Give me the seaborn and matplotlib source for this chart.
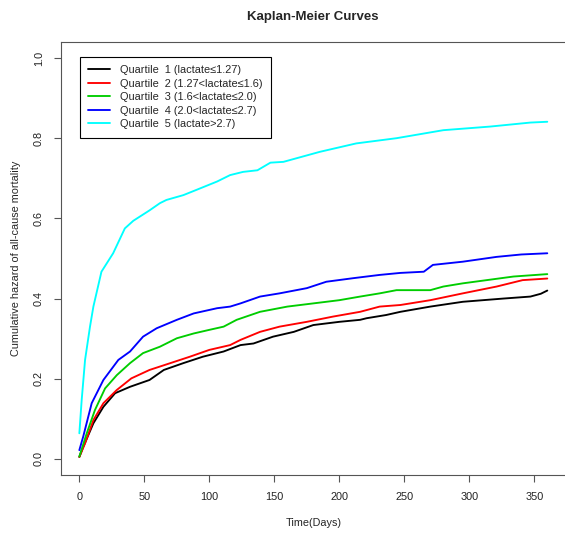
import pandas as pd
import seaborn as sns
import matplotlib.pyplot as plt

# cumulative hazard (days, value) for each lactate quartile
q1_days = [0, 3, 10.8, 18.5, 27.5, 39, 54, 65, 80, 95, 111, 124, 134, 149, 165, 180, 200, 216, 221, 236, 247, 270, 295, 326, 347, 355, 360]
q1_haz = [0.005, 0.03, 0.089, 0.13, 0.164, 0.18, 0.197, 0.222, 0.239, 0.255, 0.268, 0.284, 0.288, 0.305, 0.317, 0.334, 0.342, 0.347, 0.351, 0.359, 0.367, 0.38, 0.392, 0.4, 0.405, 0.412, 0.42]

q2_days = [0, 4.4, 10.8, 18.5, 28.8, 40, 54, 70, 85, 100, 116, 124, 139, 154, 175, 195, 216, 231, 247, 270, 295, 321, 341, 360]
q2_haz = [0.005, 0.039, 0.097, 0.139, 0.172, 0.201, 0.222, 0.239, 0.255, 0.272, 0.284, 0.297, 0.317, 0.33, 0.342, 0.355, 0.367, 0.38, 0.384, 0.396, 0.413, 0.43, 0.446, 0.45]

q3_days = [0, 5.7, 12, 19.8, 28.8, 39, 49, 62, 75, 88, 100, 111, 121, 139, 160, 180, 200, 216, 231, 244, 270, 280, 295, 334, 360]
q3_haz = [0.006, 0.064, 0.122, 0.176, 0.209, 0.239, 0.264, 0.28, 0.301, 0.313, 0.322, 0.33, 0.347, 0.367, 0.38, 0.388, 0.396, 0.405, 0.413, 0.421, 0.421, 0.43, 0.438, 0.455, 0.461]

q4_days = [0, 3, 9.5, 18.5, 30, 39, 49, 59.5, 75, 88, 106, 116, 124, 139, 154, 175, 190, 211, 231, 247, 265, 272, 295, 321, 340, 360]
q4_haz = [0.022, 0.056, 0.139, 0.197, 0.247, 0.268, 0.305, 0.326, 0.347, 0.363, 0.376, 0.38, 0.388, 0.405, 0.413, 0.426, 0.442, 0.451, 0.459, 0.464, 0.467, 0.484, 0.492, 0.504, 0.51, 0.513]

q5_days = [0, 1.8, 4.4, 8.2, 10.8, 17, 26, 35, 41.5, 54, 62, 67, 80, 90, 106, 116, 126, 137, 147, 157, 185, 213, 244, 280, 316, 347, 360]
q5_haz = [0.064, 0.147, 0.247, 0.33, 0.38, 0.467, 0.513, 0.575, 0.594, 0.62, 0.638, 0.646, 0.658, 0.671, 0.692, 0.708, 0.716, 0.72, 0.739, 0.741, 0.766, 0.787, 0.80, 0.82, 0.829, 0.839, 0.841]

labels = [
    "Quartile  1 (lactate≤1.27)",
    "Quartile  2 (1.27<lactate≤1.6)",
    "Quartile  3 (1.6<lactate≤2.0)",
    "Quartile  4 (2.0<lactate≤2.7)",
    "Quartile  5 (lactate>2.7)",
]
colors = ["black", "#FF0000", "#00CD00", "#0000FF", "#00FFFF"]

series = [(q1_days, q1_haz), (q2_days, q2_haz), (q3_days, q3_haz),
          (q4_days, q4_haz), (q5_days, q5_haz)]

sns.set_style("white")
plt.rcParams['font.family'] = ['Liberation Sans', 'DejaVu Sans']

fig = plt.figure(figsize=(5.65, 5.34), dpi=100)
ax = fig.add_axes([0.1073, 0.1105, 0.8945, 0.8109])

for (d, h), lab, col in zip(series, labels, colors):
    df = pd.DataFrame({"days": d, "hazard": h})
    sns.lineplot(data=df, x="days", y="hazard", ax=ax, color=col, label=lab,
                 linewidth=1.35, errorbar=None)

ax.set_xlim(-14.4, 374.4)
ax.set_ylim(-0.04, 1.04)
ax.set_xticks([0, 50, 100, 150, 200, 250, 300, 350])
ax.set_yticks([0.0, 0.2, 0.4, 0.6, 0.8, 1.0])
ax.set_yticklabels(["0.0", "0.2", "0.4", "0.6", "0.8", "1.0"], rotation=90, va="center")
ax.tick_params(axis="both", direction="out", length=5, width=0.8, color="#555555",
               labelsize=7.8, labelcolor="#222222", pad=7, left=True, bottom=True)
for s in ax.spines.values():
    s.set_color("#555555")
    s.set_linewidth(0.8)

ax.set_xlabel("Time(Days)", fontsize=7.8, labelpad=12)
ax.set_ylabel("Cumulative hazard of all-cause mortality", fontsize=7.8, labelpad=9)

fig.text(0.554, 1 - 17 / 534, "Kaplan-Meier Curves", ha="center", va="center",
         fontsize=9.5, fontweight="bold")

leg = ax.legend(loc="upper left", bbox_to_anchor=(80 / 565, 1 - 57 / 534),
                bbox_transform=fig.transFigure, fontsize=7.9, frameon=True,
                fancybox=False, framealpha=1, edgecolor="black",
                handlelength=2.0, handletextpad=0.9, labelspacing=0.32,
                borderpad=0.75, borderaxespad=0)
leg.get_frame().set_linewidth(0.8)

fig.savefig("out.png", dpi=100)
